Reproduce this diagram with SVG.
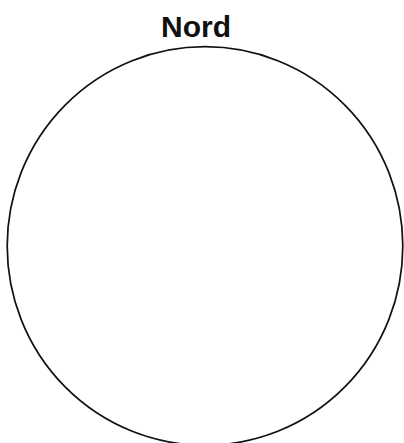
<svg xmlns="http://www.w3.org/2000/svg" width="404" height="443" viewBox="0 0 404 443">
<style>
.lbl{font-family:"Liberation Sans",Arial,sans-serif;font-weight:bold;font-size:30px;fill:#111;text-anchor:middle}
.shape{fill:#fff;stroke:#111;stroke-width:1.7}
</style>
<rect width="404" height="443" fill="#fff"/>
<g id="circle">
<ellipse class="shape" cx="205" cy="246" rx="197.8" ry="199.3"/>
</g>
<g id="label">
<text class="lbl" x="196" y="37">Nord</text>
</g>
</svg>
